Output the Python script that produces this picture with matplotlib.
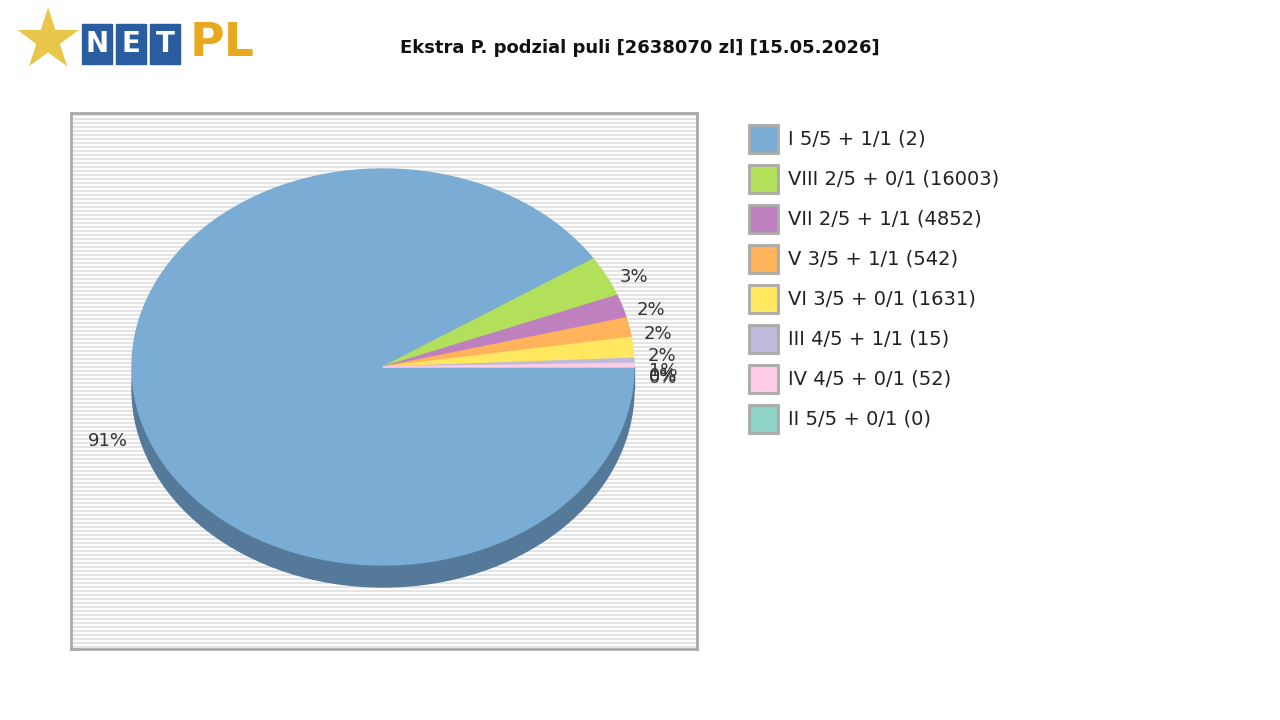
import numpy as np
import matplotlib
matplotlib.use("Agg")
import matplotlib.pyplot as plt
from matplotlib.patches import Wedge, Ellipse, Rectangle
from matplotlib.transforms import Affine2D

TITLE = "Ekstra P. podzial puli [2638070 zl] [15.05.2026]"
LABELS = ["I 5/5 + 1/1 (2)", "VIII 2/5 + 0/1 (16003)", "VII 2/5 + 1/1 (4852)",
          "V 3/5 + 1/1 (542)", "VI 3/5 + 0/1 (1631)", "III 4/5 + 1/1 (15)",
          "IV 4/5 + 0/1 (52)", "II 5/5 + 0/1 (0)"]
SHARES = [91.0, 3.3, 1.9, 1.6, 1.7, 0.4, 0.3, 0.0]
PCT_TEXT = ["91%", "3%", "2%", "2%", "2%", "1%", "0%", "0%"]
COLORS = ["#7bacd4", "#b3e05a", "#bf80bf", "#ffb35a", "#ffe860", "#bfbadb", "#ffcce6", "#8ed4c6"]

fig = plt.figure(figsize=(12.8, 7.2), dpi=100)
fig.patch.set_facecolor("white")

# plot frame: pixel box 71..697 x 113..649
ax = fig.add_axes([71 / 1280, 71 / 720, 626 / 1280, 536 / 720])
ax.set_xlim(0, 626)
ax.set_ylim(0, 536)
ax.set_xticks([])
ax.set_yticks([])
for s in ax.spines.values():
    s.set_color("#aaaaaa")
    s.set_linewidth(2)
for y in np.arange(2, 536, 4):
    ax.axhline(y, color="#e4e4e4", lw=1.6, zorder=0)

cx, cy, rx, ry, depth = 312, 282, 251, 198, 22
ax.add_patch(Rectangle((cx - rx, cy - depth), 2 * rx, depth, color="#557a99", zorder=1))
ax.add_patch(Ellipse((cx, cy - depth), 2 * rx, 2 * ry, color="#557a99", zorder=1))

tr = Affine2D().scale(rx, ry).translate(cx, cy) + ax.transData
total = sum(SHARES)
angle = 0.0
for share, col, txt in zip(SHARES, COLORS, PCT_TEXT):
    span = 360 * share / total
    end = angle - span
    if span > 0:
        ax.add_patch(Wedge((0, 0), 1, end, angle, color=col, transform=tr, zorder=2))
    mid = np.radians((angle + end) / 2)
    lx = cx + 1.06 * rx * np.cos(mid)
    ly = cy + 1.12 * ry * np.sin(mid) - 11
    ax.text(lx, ly, txt, ha="left" if np.cos(mid) > 0 else "right", va="center",
            fontsize=13, color="#333333", zorder=3)
    angle = end

# legend
for i, (lab, col) in enumerate(zip(LABELS, COLORS)):
    y = 1 - (139 + 40 * i) / 720
    fig.patches.append(Rectangle((749 / 1280, y - 14 / 720), 29 / 1280, 28 / 720,
                                 transform=fig.transFigure, facecolor=col,
                                 edgecolor="#aaaaaa", lw=2))
    fig.text(788 / 1280, y, lab, fontsize=14, va="center", color="#222222")

fig.text(640 / 1280, 1 - 48 / 720, TITLE, ha="center", va="center", fontsize=13,
         fontweight="bold", color="#111111")

# logo
fig.text(48 / 1280, 1 - 44 / 720, "\u2605", ha="center", va="center", fontsize=58,
         color="#e8c64a")
for i, ch in enumerate("NET"):
    x0 = (82 + i * 34) / 1280
    fig.patches.append(Rectangle((x0, 1 - 64 / 720), 30 / 1280, 40 / 720,
                                 transform=fig.transFigure, color="#2a5d9f"))
    fig.text(x0 + 15 / 1280, 1 - 44 / 720, ch, ha="center", va="center",
             fontsize=20, fontweight="bold", color="white")
fig.text(190 / 1280, 1 - 44 / 720, "PL", ha="left", va="center", fontsize=34,
         fontweight="bold", color="#e8a820")

fig.savefig("out.png", dpi=100)
